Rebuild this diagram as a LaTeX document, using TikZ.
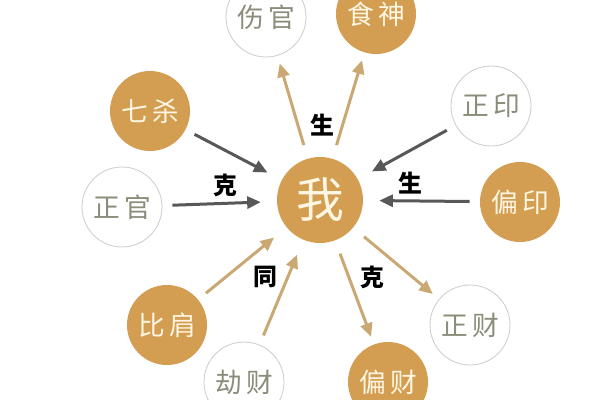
\documentclass[tikz,border=0pt]{standalone}
\usepackage{fontspec}
\setmainfont{Noto Sans CJK SC}
\usetikzlibrary{arrows.meta}
\definecolor{gold}{RGB}{211,158,82}
\definecolor{cream}{RGB}{253,246,226}
\definecolor{ring}{RGB}{205,205,205}
\definecolor{grey}{RGB}{140,140,122}
\definecolor{darkarr}{RGB}{88,88,88}
\definecolor{goldarr}{RGB}{202,168,115}
\def\FS#1{\fontsize{#1}{#1}\selectfont}

\begin{document}
\begin{tikzpicture}[x=0.25mm,y=-0.25mm,
  full/.style={circle,fill=gold,minimum size=20mm,inner sep=0pt,text=cream,font=\FS{19}},
  hollow/.style={circle,draw=ring,line width=0.6pt,minimum size=20mm,inner sep=0pt,text=grey,font=\FS{19}},
  tip/.style={-{Triangle[length=3.4mm,width=3mm]},line width=0.75mm},
  inarr/.style={tip,shorten <=2.5mm,shorten >=4mm},
  outarr/.style={tip,goldarr,shorten <=3.5mm,shorten >=2mm},
  lab/.style={font=\bfseries\FS{17}}]
  \useasboundingbox (0,0) rectangle (600,400);
  % centre
  \node[full,minimum size=21.5mm,font=\FS{34}] (wo) at (320,200) {我};
  % outer ring
  \node[hollow] (shangguan) at (266,17) {伤\,官};
  \node[full] (shishen) at (376,14) {食\,神};
  \node[full] (qisha) at (150,111) {七\,杀};
  \node[hollow] (zhengguan) at (122,207) {正\,官};
  \node[hollow] (zhengyin) at (491,106) {正\,印};
  \node[full] (pianyin) at (520,202) {偏\,印};
  \node[full] (bijian) at (167,325) {比\,肩};
  \node[hollow] (jiecai) at (244,382) {劫\,财};
  \node[full] (piancai) at (388,382) {偏\,财};
  \node[hollow] (zhengcai) at (470,325) {正\,财};
  % arrows
  \draw[inarr,darkarr] (qisha) -- (wo);
  \draw[inarr,darkarr] (zhengguan) -- (wo);
  \draw[inarr,darkarr] (zhengyin) -- (wo);
  \draw[inarr,darkarr] (pianyin) -- (wo);
  \draw[inarr,goldarr] (bijian) -- (wo);
  \draw[inarr,goldarr] (jiecai) -- (wo);
  \draw[outarr] (wo) -- (shangguan);
  \draw[outarr] (wo) -- (shishen);
  \draw[outarr] (wo) -- (piancai);
  \draw[outarr] (wo) -- (zhengcai);
  % labels
  \node[lab] (ke1) at (225,185) {克};
  \node[lab] (sheng1) at (322,125) {生};
  \node[lab] (sheng2) at (410,183) {生};
  \node[lab] (tong) at (265,277) {同};
  \node[lab] (ke2) at (372,277) {克};
\end{tikzpicture}
\end{document}
